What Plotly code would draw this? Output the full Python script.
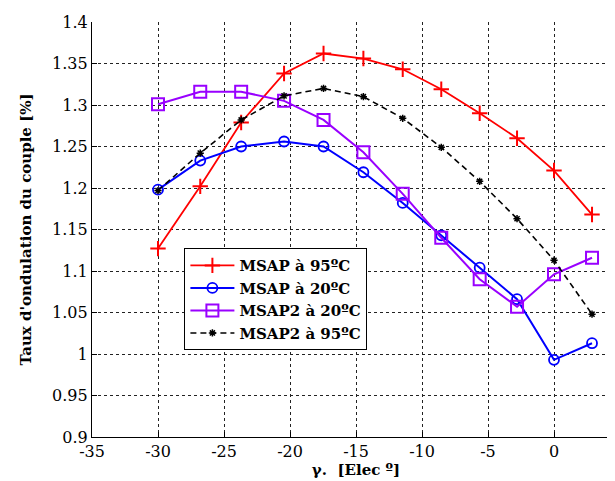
import plotly.graph_objects as go

gamma = [-30, -26.8, -23.7, -20.45, -17.46, -14.44, -11.46, -8.54, -5.63, -2.8, 0, 2.88]

msap_95 = [1.127, 1.202, 1.279, 1.338, 1.362, 1.356, 1.343, 1.319, 1.290, 1.260, 1.221, 1.168]
msap_20 = [1.198, 1.233, 1.250, 1.256, 1.250, 1.219, 1.182, 1.143, 1.104, 1.066, 0.993, 1.013]
msap2_20 = [1.301, 1.316, 1.316, 1.305, 1.282, 1.243, 1.193, 1.140, 1.090, 1.057, 1.096, 1.116]
msap2_95 = [1.197, 1.242, 1.282, 1.311, 1.320, 1.310, 1.284, 1.249, 1.208, 1.163, 1.113, 1.048]

names = ["MSAP à 95ºC", "MSAP à 20ºC", "MSAP2 à 20ºC", "MSAP2 à 95ºC"]

x_ticks = [-35, -30, -25, -20, -15, -10, -5, 0, 5]
y_ticks = [0.9, 0.95, 1, 1.05, 1.1, 1.15, 1.2, 1.25, 1.3, 1.35, 1.4]
y_tick_text = ["0.9", "0.95", "1", "1.05", "1.1", "1.15", "1.2", "1.25", "1.3", "1.35", "1.4"]

FONT = "DejaVu Serif"

fig = go.Figure()
fig.add_trace(go.Scatter(
    x=gamma, y=msap_95, name=names[0], mode="lines+markers",
    line=dict(color="#FF0000", width=1.8),
    marker=dict(symbol="cross-thin", size=11, line=dict(color="#FF0000", width=2)),
))
fig.add_trace(go.Scatter(
    x=gamma, y=msap_20, name=names[1], mode="lines+markers",
    line=dict(color="#0000FF", width=2),
    marker=dict(symbol="circle-open", size=10, color="#0000FF", line=dict(width=1.8)),
))
fig.add_trace(go.Scatter(
    x=gamma, y=msap2_20, name=names[2], mode="lines+markers",
    line=dict(color="#9900FF", width=2),
    marker=dict(symbol="square-open", size=12, color="#9900FF", line=dict(width=2)),
))
fig.add_trace(go.Scatter(
    x=gamma, y=msap2_95, name=names[3], mode="lines+markers",
    line=dict(color="#000000", width=1.6, dash="6px,4px"),
    marker=dict(symbol="asterisk-open", size=6, color="#000000", line=dict(width=1.5, color="#000000")),
))

axis_common = dict(
    showline=True, linecolor="black", linewidth=1.2,
    ticks="inside", ticklen=5, tickcolor="black",
    showgrid=True, gridcolor="#222222", gridwidth=1, griddash="3px,3px",
    zeroline=False,
    tickfont=dict(family=FONT, size=16, color="black"),
)

fig.update_xaxes(
    range=[-35, 5], tickvals=x_ticks, ticktext=[str(v) for v in x_ticks],
    title=dict(text="<b>γ.  [Elec º]</b>", font=dict(family=FONT, size=15, color="black"), standoff=4),
    **axis_common,
)
fig.update_yaxes(
    range=[0.9, 1.4], tickvals=y_ticks, ticktext=y_tick_text,
    title=dict(text="<b>Taux d'ondulation du couple [%]</b>", font=dict(family=FONT, size=15, color="black"), standoff=16),
    **axis_common,
)

fig.update_layout(
    width=615, height=481,
    margin=dict(l=84, r=3, t=14, b=52),
    plot_bgcolor="white", paper_bgcolor="white",
    font=dict(family=FONT, color="black"),
    legend=dict(
        x=0.175, y=0.455, xanchor="left", yanchor="top",
        bgcolor="white", bordercolor="black", borderwidth=1,
        font=dict(family=FONT, size=15, color="black", weight="bold"),
        itemwidth=44, tracegroupgap=0,
    ),
)

fig.write_html("out.html")
